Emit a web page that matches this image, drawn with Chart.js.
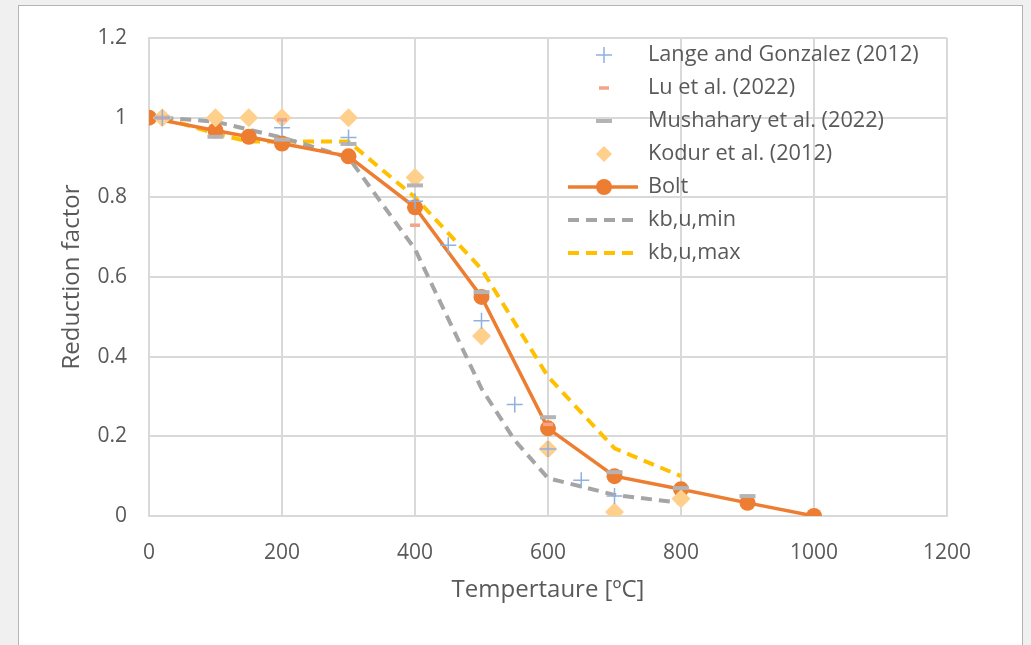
<!DOCTYPE html>
<html lang="en">
  <head>
    <meta charset="UTF-8" />
    <title>Bolt reduction factor</title>
    <script src="https://cdn.jsdelivr.net/npm/chart.js@4.4.0/dist/chart.umd.min.js"></script>
    <style>
      body { margin: 0; background: #f0f0f0; width: 1031px; height: 645px; overflow: hidden; position: relative; }
      #panel { position: absolute; left: 18px; top: 5px; width: 1003px; height: 660px; background: #fff; border: 1px solid #b4b4b4; }
      #chart { position: absolute; left: 0; top: 0; }
    </style>
  </head>
  <body>
    <div id="panel"></div>
    <canvas id="chart" width="1031" height="645"></canvas>
  <script>
// temperatures (C) and reduction factors
const langeT = [20, 200, 300, 400, 450, 500, 550, 600, 650, 700];
const langeK = [1.0, 0.975, 0.95, 0.79, 0.68, 0.49, 0.28, 0.168, 0.09, 0.05];

const luT = [20, 200, 400, 600];
const luK = [1.0, 0.995, 0.73, 0.23];

const mushT = [20, 100, 200, 300, 400, 500, 600, 700, 800, 900];
const mushK = [1.0, 0.952, 0.945, 0.934, 0.83, 0.562, 0.248, 0.11, 0.07, 0.05];

const kodurT = [20, 100, 150, 200, 300, 400, 500, 600, 700, 800];
const kodurK = [1.0, 1.0, 1.0, 1.0, 1.0, 0.85, 0.452, 0.168, 0.01, 0.043];

const boltT = [0, 100, 150, 200, 300, 400, 500, 600, 700, 800, 900, 1000];
const boltK = [1.0, 0.968, 0.952, 0.935, 0.903, 0.775, 0.55, 0.22, 0.1, 0.067, 0.033, 0.0];

const minT = [20, 100, 200, 300, 400, 500, 550, 600, 700, 800];
const minK = [1.0, 0.99, 0.95, 0.9, 0.67, 0.32, 0.19, 0.095, 0.053, 0.033];

const maxT = [20, 100, 150, 200, 300, 400, 500, 600, 700, 800];
const maxK = [1.0, 0.96, 0.94, 0.94, 0.94, 0.8, 0.62, 0.35, 0.17, 0.1];

const xTicks = [0, 200, 400, 600, 800, 1000, 1200];
const yTicks = [0, 0.2, 0.4, 0.6, 0.8, 1, 1.2];

const FONT = "'Open Sans', sans-serif";
const TEXT = '#595959';

function pts(xs, ys) { return xs.map((x, i) => ({x: x, y: ys[i]})); }
function plain(v) { return String(+Number(v).toFixed(1)); }

// legend drawn inside the plot, top right
const insideLegend = {
  id: 'insideLegend',
  afterDatasetsDraw(chart) {
    const ctx = chart.ctx, area = chart.chartArea;
    const x0 = area.right - 343;
    let y = area.top + 17;
    chart.data.datasets.forEach(ds => {
      ctx.save();
      if (ds.showLine) {
        ctx.strokeStyle = ds.borderColor;
        ctx.lineWidth = ds.borderWidth;
        ctx.setLineDash(ds.borderDash || []);
        ctx.beginPath(); ctx.moveTo(x0 - 36, y); ctx.lineTo(x0 + 34, y); ctx.stroke();
      }
      if (ds.pointRadius > 0) {
        ctx.setLineDash([]);
        ctx.fillStyle = ds.pointBackgroundColor;
        ctx.strokeStyle = ds.pointBorderColor;
        ctx.lineWidth = ds.pointBorderWidth;
        Chart.helpers.drawPoint(ctx, {pointStyle: ds.pointStyle, radius: ds.legendRadius || ds.pointRadius,
          rotation: 0, borderWidth: ds.pointBorderWidth}, x0, y);
      }
      ctx.fillStyle = TEXT;
      ctx.font = '21.7px ' + FONT;
      ctx.textBaseline = 'middle';
      ctx.fillText(ds.label, x0 + 44, y);
      ctx.restore();
      y += 33;
    });
  }
};

const ctx = document.getElementById('chart').getContext('2d');
new Chart(ctx, {
  type: 'scatter',
  data: {
    datasets: [
      { label: 'Lange and Gonzalez (2012)', data: pts(langeT, langeK), showLine: false,
        pointStyle: 'cross', pointRadius: 8, pointBorderWidth: 1.5,
        pointBorderColor: '#8fb0e0', pointBackgroundColor: '#8fb0e0' },
      { label: 'Lu et al. (2022)', data: pts(luT, luK), showLine: false,
        pointStyle: 'line', pointRadius: 5, pointBorderWidth: 3.5,
        pointBorderColor: '#f4a487', pointBackgroundColor: '#f4a487' },
      { label: 'Mushahary et al. (2022)', data: pts(mushT, mushK), showLine: false,
        pointStyle: 'line', pointRadius: 8, pointBorderWidth: 4,
        pointBorderColor: '#b4b4b4', pointBackgroundColor: '#b4b4b4' },
      { label: 'Kodur et al. (2012)', data: pts(kodurT, kodurK), showLine: false,
        pointStyle: 'rectRot', pointRadius: 9.5, legendRadius: 8, pointBorderWidth: 0,
        pointBorderColor: '#ffd08c', pointBackgroundColor: '#ffd08c' },
      { label: 'Bolt', data: pts(boltT, boltK), showLine: true,
        borderColor: '#ed7d31', borderWidth: 3.5,
        pointStyle: 'circle', pointRadius: 8, pointBorderWidth: 0,
        pointBorderColor: '#ed7d31', pointBackgroundColor: '#ed7d31' },
      { label: 'kb,u,min', data: pts(minT, minK), showLine: true,
        borderColor: '#a5a5a5', borderWidth: 4, borderDash: [11, 7], pointRadius: 0 },
      { label: 'kb,u,max', data: pts(maxT, maxK), showLine: true,
        borderColor: '#ffc000', borderWidth: 4, borderDash: [11, 7], pointRadius: 0 }
    ]
  },
  options: {
    responsive: false,
    animation: false,
    devicePixelRatio: 1,
    layout: { padding: { left: 0, top: 38, right: 84, bottom: 0 } },
    plugins: { legend: { display: false }, tooltip: { enabled: false } },
    scales: {
      x: {
        type: 'linear', min: 0, max: 1200,
        afterBuildTicks: s => { s.ticks = xTicks.map(v => ({value: v})); },
        afterFit: s => { s.height = 129; },
        grid: { color: '#d9d9d9', lineWidth: 2, drawTicks: false },
        border: { color: '#d9d9d9', width: 2 },
        ticks: { padding: 24, color: TEXT, font: { family: FONT, size: 21 }, callback: plain },
        title: { display: true, text: 'Tempertaure [ºC]', color: TEXT,
          font: { family: FONT, size: 24 }, padding: { top: 0, bottom: 40 } }
      },
      y: {
        type: 'linear', min: 0, max: 1.2,
        afterBuildTicks: s => { s.ticks = yTicks.map(v => ({value: v})); },
        afterFit: s => { s.width = 149; },
        grid: { color: '#d9d9d9', lineWidth: 2, drawTicks: false },
        border: { color: '#d9d9d9', width: 2 },
        ticks: { padding: 22, color: TEXT, font: { family: FONT, size: 21 }, callback: plain },
        title: { display: true, text: 'Reduction factor', color: TEXT,
          font: { family: FONT, size: 24 }, padding: { top: 58, bottom: 0 } }
      }
    }
  },
  plugins: [insideLegend]
});
  </script>
  </body>
</html>
